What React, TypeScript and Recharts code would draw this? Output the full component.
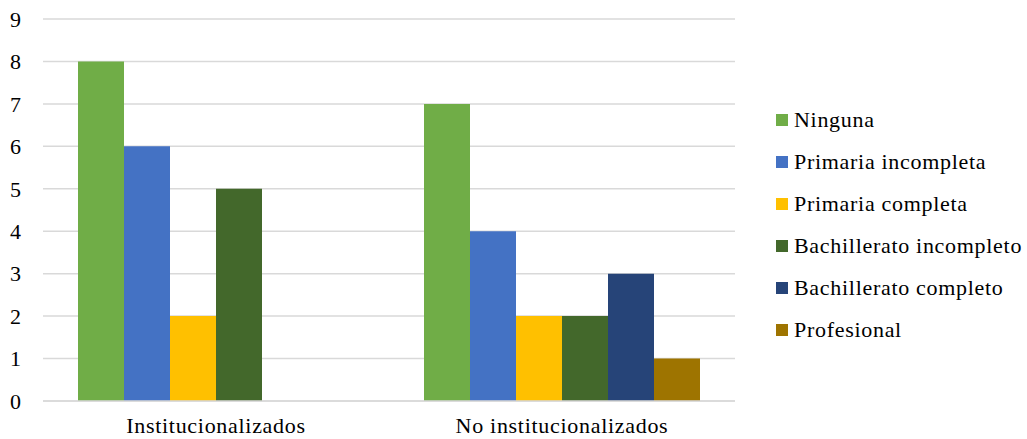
import React from 'react';
import { BarChart, Bar, XAxis, YAxis, CartesianGrid } from 'recharts';

const categories = ['Institucionalizados', 'No institucionalizados'];
const seriesNames = ['Ninguna', 'Primaria incompleta', 'Primaria completa', 'Bachillerato incompleto', 'Bachillerato completo', 'Profesional'];
const ninguna = [8, 7];
const primariaIncompleta = [6, 4];
const primariaCompleta = [2, 2];
const bachilleratoIncompleto = [5, 2];
const bachilleratoCompleto = [0, 3];
const profesional = [0, 1];
const yTicks = [0, 1, 2, 3, 4, 5, 6, 7, 8, 9];
const colors = ['#70AD47', '#4472C4', '#FFC000', '#43682B', '#264478', '#9E7400'];

const seriesValues = [ninguna, primariaIncompleta, primariaCompleta, bachilleratoIncompleto, bachilleratoCompleto, profesional];
const keys = ['s0', 's1', 's2', 's3', 's4', 's5'];

const data = categories.map((c, i) => {
  const row: any = { name: c };
  seriesValues.forEach((vals, j) => {
    row[keys[j]] = vals[i];
  });
  return row;
});

const FONT = "'Times New Roman', 'Liberation Serif', 'DejaVu Serif', serif";
const FS = 22;
const LS = 0.7;

export default function App() {
  return (
    <div style={{ position: 'absolute', left: 0, top: 0, width: 1027, height: 439, background: '#fff' }}>
      <BarChart
        width={1027}
        height={439}
        data={data}
        margin={{ top: 19, right: 292, left: 0, bottom: 0 }}
        barCategoryGap={35}
        barGap={0}
        style={{ fontFamily: FONT }}
      >
        <CartesianGrid vertical={false} stroke="#D9D9D9" strokeWidth={1.5} />
        <XAxis
          dataKey="name"
          height={38}
          axisLine={{ stroke: '#D9D9D9', strokeWidth: 1.5 }}
          tickLine={false}
          tickSize={0}
          tickMargin={16}
          tick={{ fontFamily: FONT, fontSize: FS, fill: '#000', letterSpacing: LS }}
        />
        <YAxis
          width={43}
          domain={[0, 9]}
          ticks={yTicks}
          interval={0}
          axisLine={false}
          tickLine={false}
          tickSize={0}
          tickMargin={22}
          tick={{ fontFamily: FONT, fontSize: FS, fill: '#000' }}
        />
        {keys.map((k, i) => (
          <Bar key={k} dataKey={k} name={seriesNames[i]} fill={colors[i]} isAnimationActive={false} />
        ))}
      </BarChart>
      <div
        style={{
          position: 'absolute',
          left: 776,
          top: 99,
          width: 251,
          fontFamily: FONT,
          fontSize: FS,
          letterSpacing: LS,
          color: '#000',
        }}
      >
        {seriesNames.map((n, i) => (
          <div key={n} style={{ display: 'flex', alignItems: 'center', height: 42 }}>
            <span style={{ display: 'inline-block', width: 12, height: 12, background: colors[i], marginRight: 6, flex: 'none' }} />
            <span style={{ whiteSpace: 'nowrap' }}>{n}</span>
          </div>
        ))}
      </div>
    </div>
  );
}
